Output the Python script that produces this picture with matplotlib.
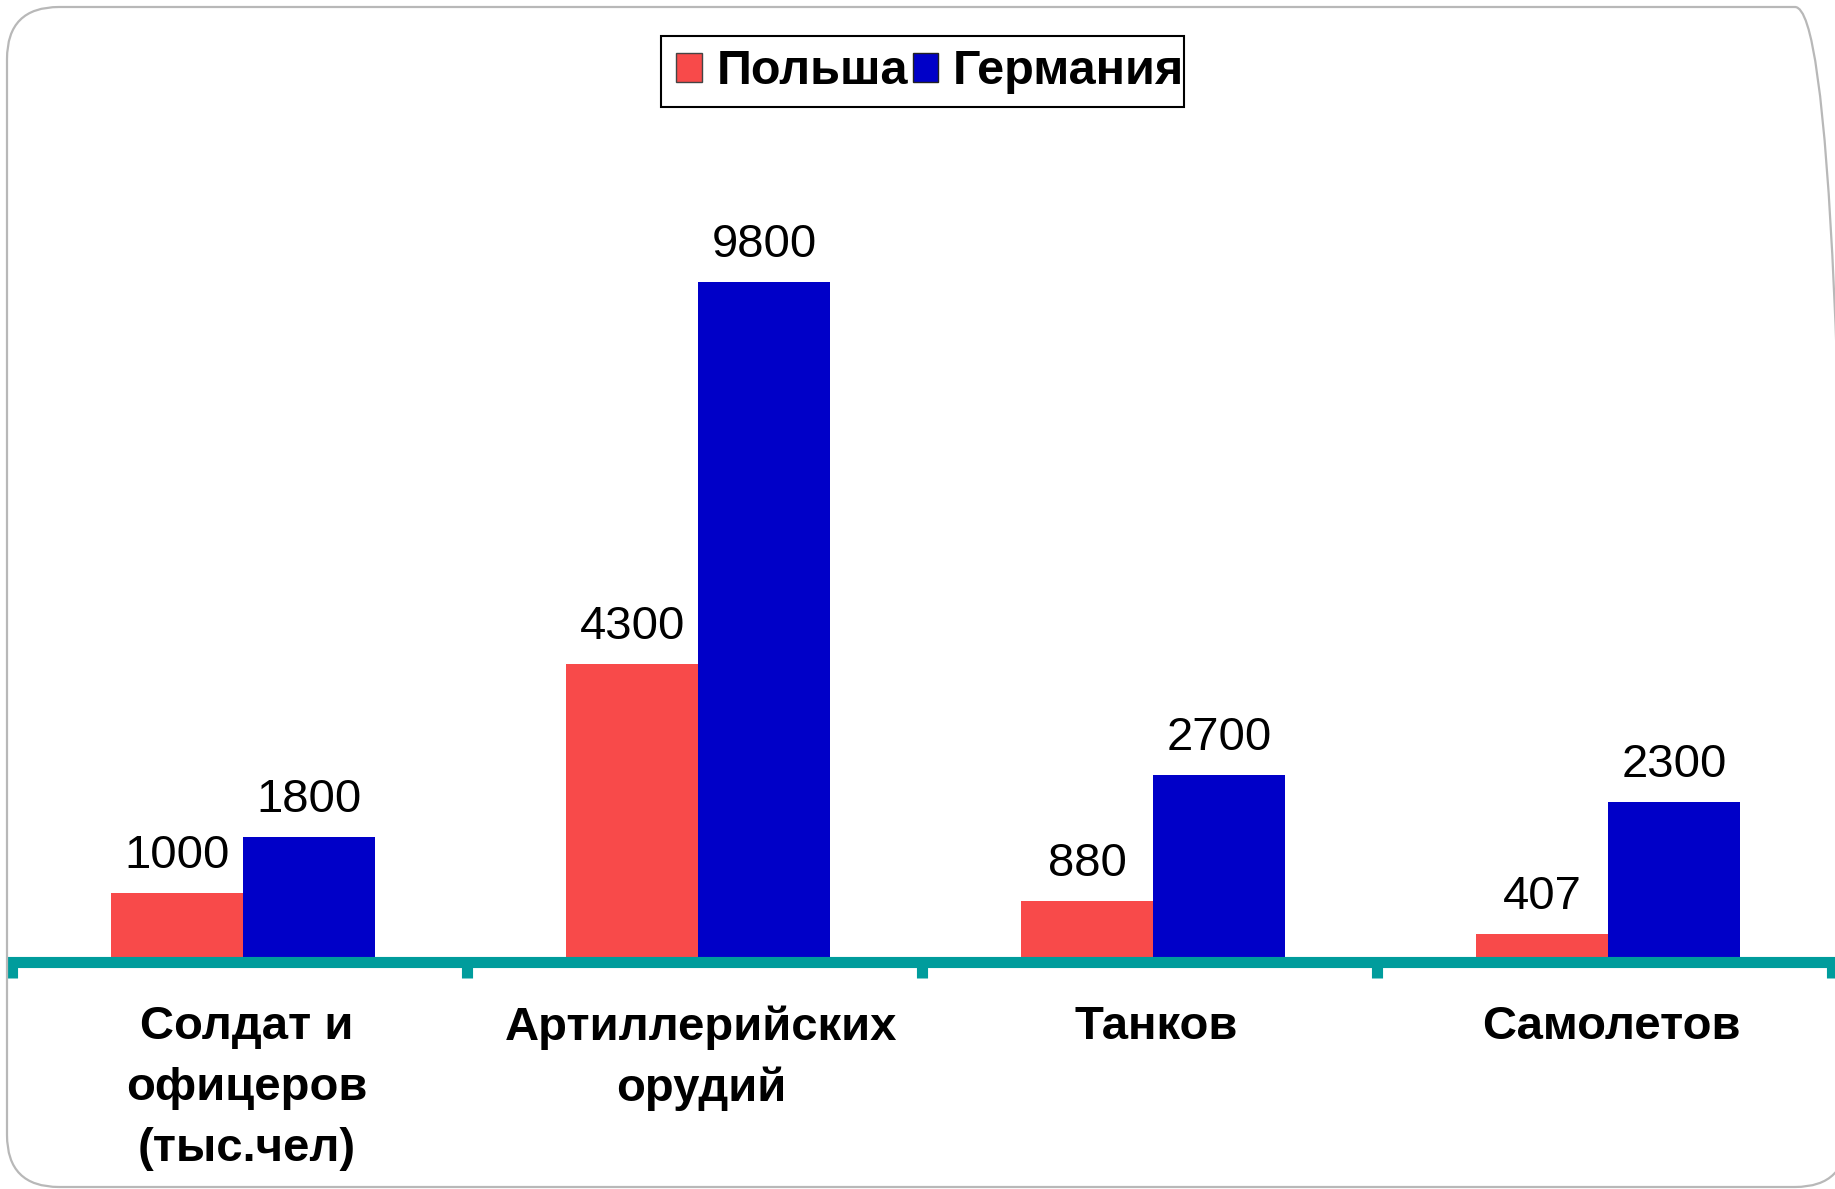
import numpy as np
import matplotlib
matplotlib.use("Agg")
import matplotlib.pyplot as plt
from matplotlib.patches import Patch, FancyBboxPatch, Rectangle

plt.rcParams['font.family'] = ['Liberation Sans', 'DejaVu Sans']

# data
categories = ["Солдат и\nофицеров\n(тыс.чел)", "Артиллерийских\nорудий", "Танков", "Самолетов"]
series_names = ["Польша", "Германия"]
poland = [1000, 4300, 880, 407]
germany = [1800, 9800, 2700, 2300]

RED = "#F84A4A"
BLUE = "#0000C8"
TEAL = "#009C9C"

W, H = 1835, 1189
fig = plt.figure(figsize=(W / 100, H / 100), dpi=100)
fig.patch.set_facecolor("white")

# rounded grey frame around the slide (right edge runs off the picture)
frame = FancyBboxPatch((0.07, 0.02), 18.40, 11.80,
                       boxstyle="round,pad=0,rounding_size=0.52",
                       transform=fig.dpi_scale_trans, facecolor="none",
                       edgecolor="#B8B8B8", lw=1.6, zorder=0)
fig.patches.append(frame)

ax = fig.add_axes([12 / W, 1 - 962 / H, 1820 / W, 833 / H])
ax.set_facecolor("none")

x = np.arange(len(categories))
w = 0.29
shift = 0.008
bars_pl = ax.bar(x - w / 2 + shift, poland, w, color=RED, zorder=2)
bars_de = ax.bar(x + w / 2 + shift, germany, w, color=BLUE, zorder=2)

for bars, vals in [(bars_pl, poland), (bars_de, germany)]:
    for b, v in zip(bars, vals):
        ax.annotate(str(v), (b.get_x() + b.get_width() / 2, v),
                    xytext=(0, 18), textcoords="offset points",
                    ha="center", va="baseline", fontsize=34, color="black")

ax.set_xlim(-0.5, 3.5)
ax.set_ylim(0, 12000)
ax.set_yticks([])
for s in ["top", "left", "right"]:
    ax.spines[s].set_visible(False)
ax.spines["bottom"].set_color(TEAL)
ax.spines["bottom"].set_linewidth(8)
ax.spines["bottom"].set_zorder(3)

# category labels sit a little right of the group centres
ax.set_xticks(x + 0.015)
ax.set_xticklabels(categories, fontsize=34, fontweight="bold")
plt.setp(ax.get_xticklabels(), linespacing=1.5)
ax.tick_params(axis="x", which="major", length=0, pad=31)
ax.set_xticks(np.arange(-0.5, 4, 1), minor=True)
ax.tick_params(axis="x", which="minor", length=11.5, width=8, color=TEAL,
               direction="out")

# legend: drawn without its own frame, box added by hand (text nearly touches right edge)
handles = [Patch(facecolor=RED, edgecolor="#444444", lw=1),
           Patch(facecolor=BLUE, edgecolor="#222222", lw=1)]
leg = fig.legend(handles, series_names, ncol=2, loc="center left",
                 bbox_to_anchor=(676 / W, 1 - 72 / H), frameon=False,
                 borderpad=0, handlelength=0.53, handleheight=0.53,
                 handletextpad=0.3, columnspacing=0.1, borderaxespad=0,
                 prop=dict(weight="bold", size=35))
fig.patches.append(Rectangle((6.61, 10.82), 5.23, 0.71, transform=fig.dpi_scale_trans,
                             facecolor="none", edgecolor="black", lw=1.5))

fig.savefig("out.png", dpi=100)
